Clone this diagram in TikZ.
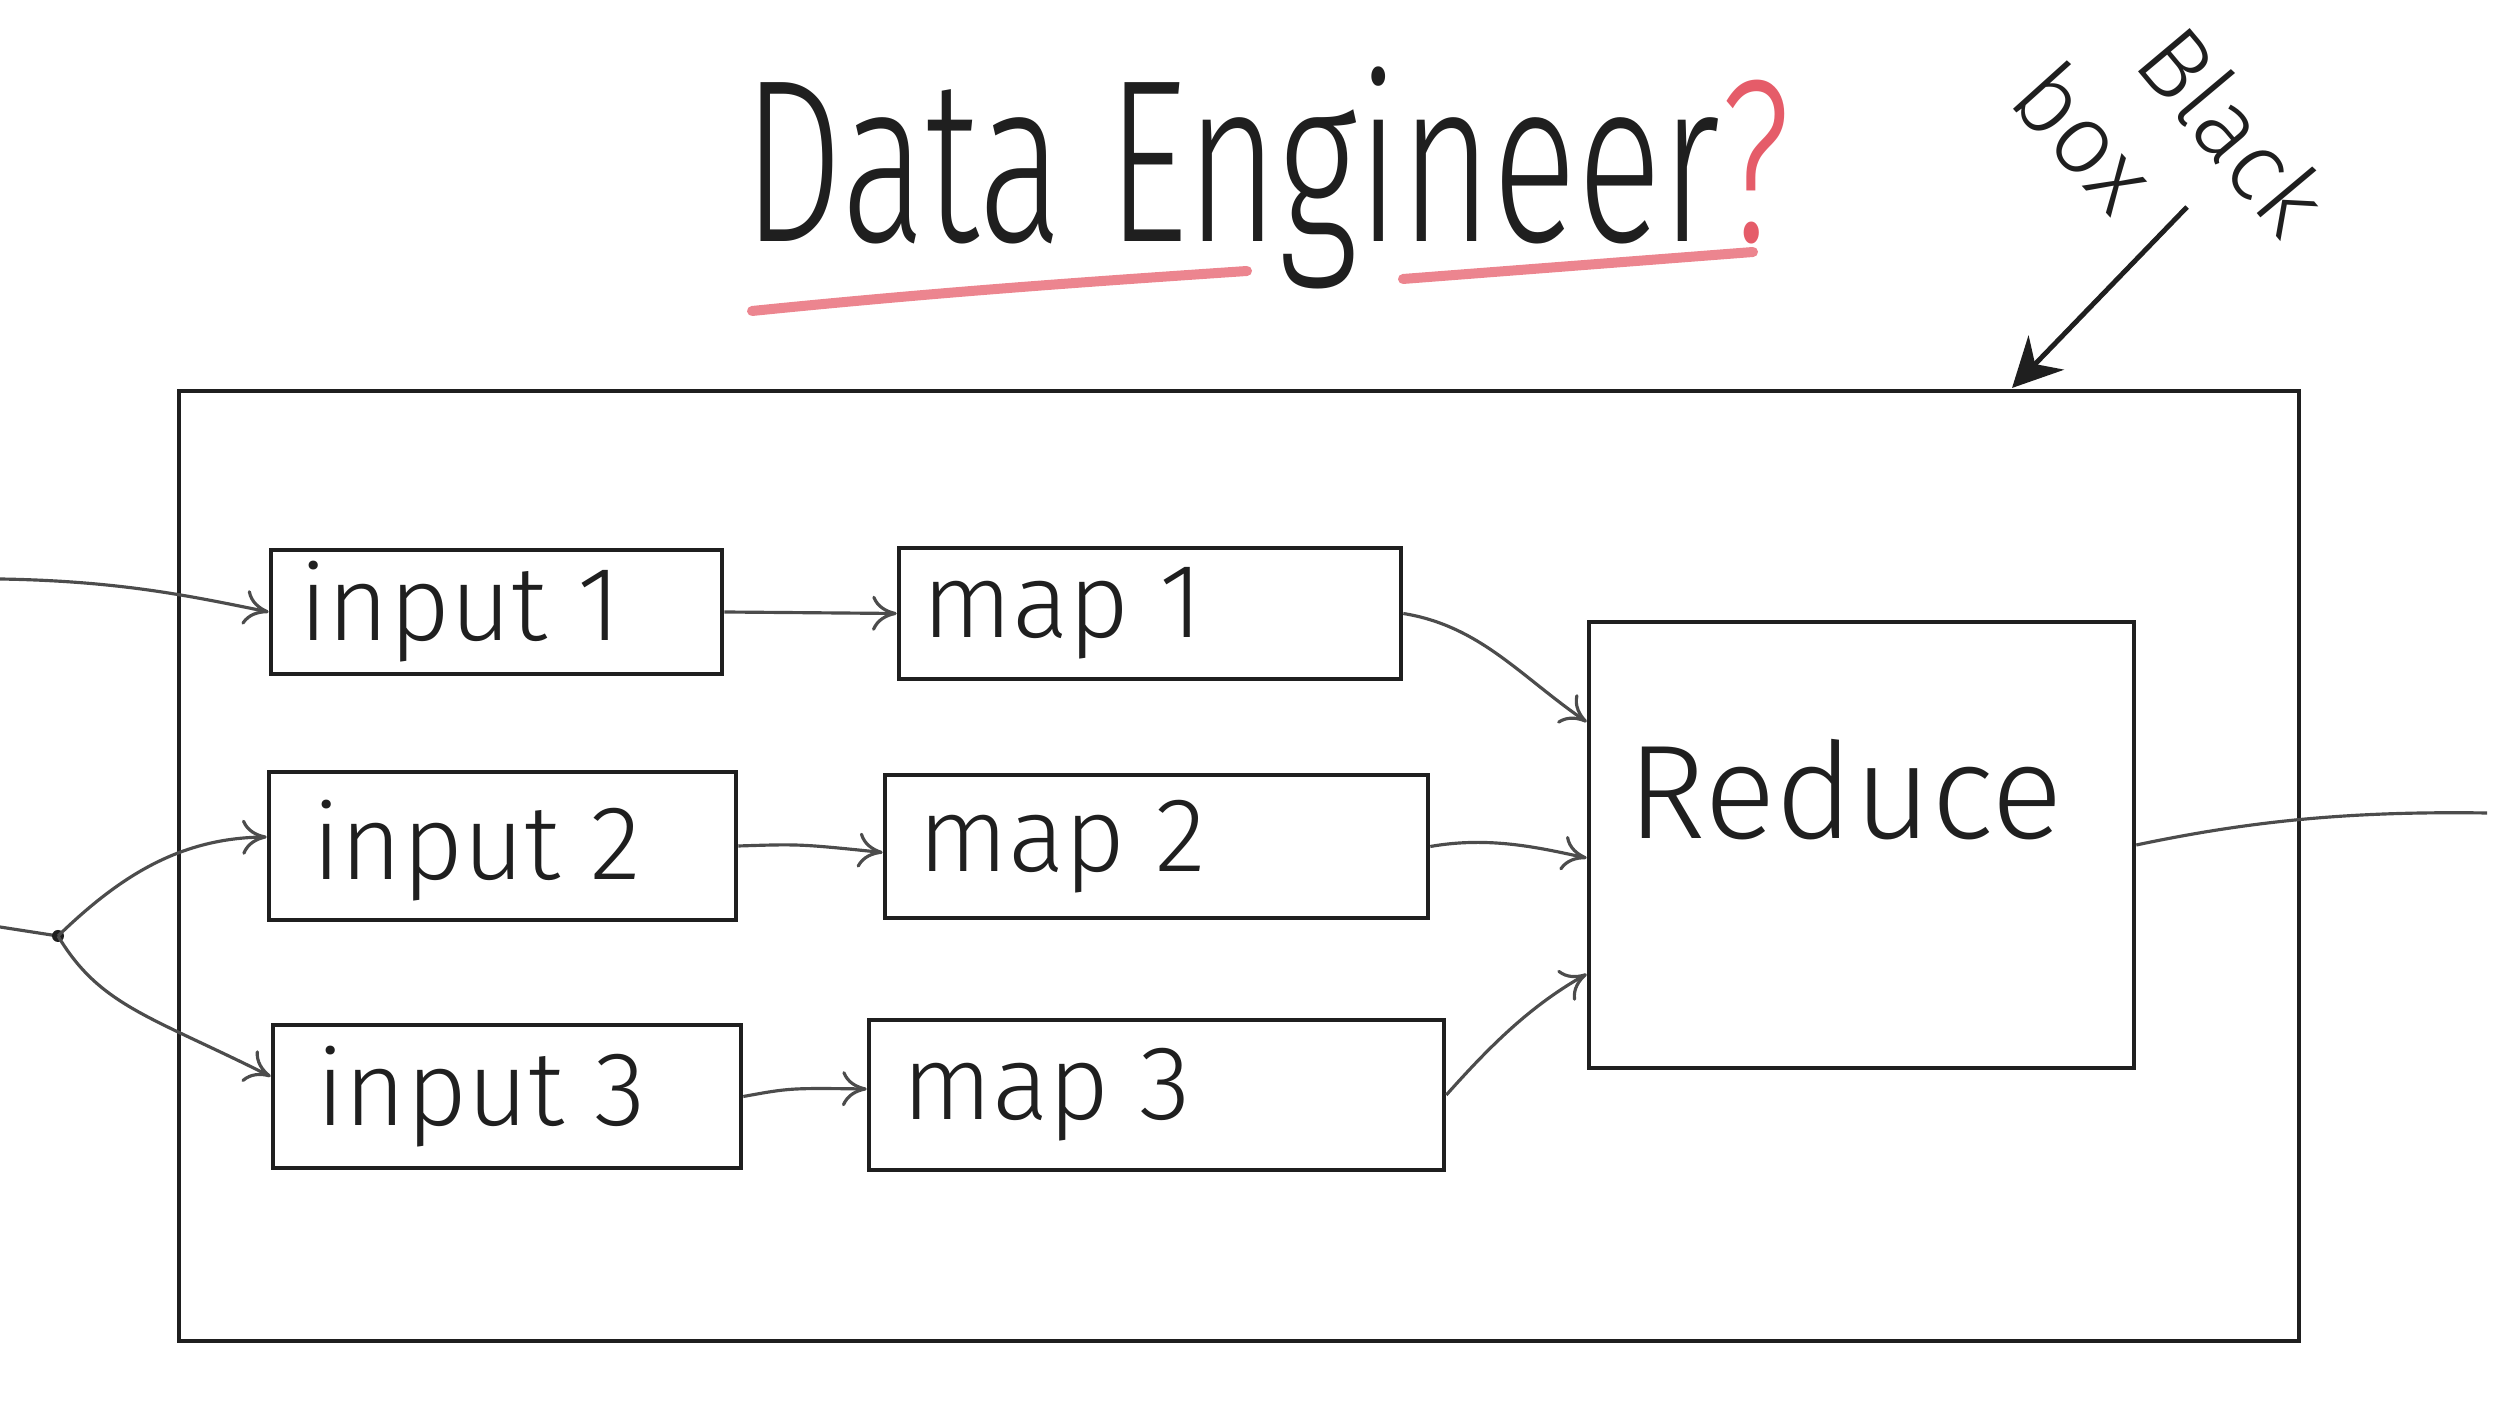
\documentclass[tikz,border=0pt]{standalone}
\usepackage{fontspec}
\setmainfont{Fira Sans}[UprightFont=* Light]
\usepackage{tikz}
\usetikzlibrary{calc}
\usetikzlibrary{arrows.meta}

\definecolor{pen}{rgb}{0.120000,0.120000,0.120000}
\definecolor{pencil}{rgb}{0.300000,0.300000,0.300000}
\definecolor{marker}{rgb}{0.900000,0.360000,0.410000}

\tikzset{
  box/.style={draw=pen, line width=1.3pt, rectangle, inner sep=0pt},
  lbl/.style={anchor=west, inner sep=0pt, text=pen},
  flow/.style={draw=pencil, line width=0.9pt, ->, >={To[length=7pt,width=10pt]}},
  underline/.style={draw=marker, opacity=0.75, line width=0.1cm, line cap=round}
}

\begin{document}
\begin{tikzpicture}
\useasboundingbox (0.000000,0.000000) rectangle (25.000000,14.060000);
{\fontsize{30}{36}\selectfont

% Drawing the frame (black box)
\node [box, minimum width=21.200000cm, minimum height=9.500000cm] (frame) at (12.390000,5.400000) {};%

% Drawing input boxes
\node [box, minimum width=4.510000cm, minimum height=1.240000cm] (in1) at (4.965000,7.940000) {};%
\node [box, minimum width=4.670000cm, minimum height=1.480000cm] (in2) at (5.025000,5.600000) {};%
\node [box, minimum width=4.680000cm, minimum height=1.430000cm] (in3) at (5.070000,3.095000) {};%
\node [lbl] (in1txt) at ([xshift=0.300000cm]in1.west) {input 1};%
\node [lbl] (in2txt) at ([xshift=0.450000cm,yshift=-0.050000cm]in2.west) {input 2};%
\node [lbl] (in3txt) at ([xshift=0.450000cm]in3.west) {input 3};%

% Drawing map boxes
\node [box, minimum width=5.020000cm, minimum height=1.310000cm] (map1) at (11.500000,7.925000) {};%
\node [box, minimum width=5.430000cm, minimum height=1.430000cm] (map2) at (11.565000,5.595000) {};%
\node [box, minimum width=5.750000cm, minimum height=1.500000cm] (map3) at (11.565000,3.110000) {};%
\node [lbl] (map1txt) at ([xshift=0.250000cm]map1.west) {map 1};%
\node [lbl] (map2txt) at ([xshift=0.350000cm]map2.west) {map 2};%
\node [lbl] (map3txt) at ([xshift=0.350000cm]map3.west) {map 3};%

% Drawing reduce box
\node [box, minimum width=5.450000cm, minimum height=4.460000cm] (reduce) at (18.615000,5.610000) {};%
\node [lbl, font=\fontsize{38}{44}\selectfont] (redtxt) at ([xshift=0.400000cm,yshift=0.550000cm]reduce.west) {Reduce};%

% Free ends of the outer arrows
\coordinate (src1) at (0.000000,8.270000);%
\coordinate (src2) at (0.000000,4.790000);%
\coordinate (splt) at (0.580000,4.700000);%
\coordinate (sink) at (24.870000,5.930000);%

% Drawing arrows into the inputs
\draw [flow] (src1) .. controls (1.200000,8.250000) and (1.900000,8.100000) .. (in1.west);%
\draw [draw=pencil, line width=0.9pt] (src2) -- (splt);%
\fill [pen] (splt) circle (0.060000);%
\draw [flow] (splt) .. controls (1.200000,5.300000) and (1.800000,5.680000) .. ([yshift=0.090000cm]in2.west);%
\draw [flow] (splt) .. controls (1.000000,4.000000) and (1.500000,3.900000) .. ([yshift=0.200000cm]in3.west);%

% Drawing arrows input -> map
\draw [flow] (in1.east) -- (map1.west);%
\draw [flow] (in2.east) .. controls (8.000000,5.620000) .. ([yshift=-0.060000cm]map2.west);%
\draw [flow] (in3.east) .. controls (7.900000,3.180000) .. ([yshift=0.060000cm]map3.west);%

% Drawing arrows map -> reduce
\draw [flow] (map1.east) .. controls (14.800000,7.800000) and (15.200000,7.300000) .. ([yshift=1.230000cm]reduce.west);%
\draw [flow] (map2.east) .. controls (14.900000,5.700000) and (15.400000,5.580000) .. ([yshift=-0.130000cm]reduce.west);%
\draw [flow] (map3.east) .. controls (14.900000,3.600000) and (15.300000,4.000000) .. ([yshift=-1.290000cm]reduce.west);%

% Drawing output arrow
\draw [draw=pencil, line width=0.9pt] (reduce.east) .. controls (22.500000,5.850000) and (23.500000,5.950000) .. (sink);%
}

% Title with red underlines
\draw [underline] (7.520000,10.950000) .. controls (9.500000,11.150000) and (11.000000,11.250000) .. (12.470000,11.350000);%
\node [inner sep=0pt, text=pen, font=\fontsize{66}{70}\selectfont, xscale=0.680000] (title) at (12.670000,12.280000) {Data Engineer\textcolor{marker}{?}};%
\draw [underline] (14.030000,11.270000) -- (17.530000,11.540000);%

% Black box label and arrow
\node [inner sep=0pt, text=pen, rotate=-50, font=\fontsize{28}{34}\selectfont] (blk) at (22.340000,12.760000) {Black};%
\node [inner sep=0pt, text=pen, rotate=-48, font=\fontsize{28}{34}\selectfont] (bx) at (20.860000,12.700000) {box};%
\coordinate (bbtail) at (21.870000,11.990000);%
\coordinate (bbtip) at (20.120000,10.180000);%
\draw [draw=pen, line width=1.4pt, -{Stealth[length=14pt,width=14pt]}] (bbtail) -- (bbtip);%
\end{tikzpicture}
\end{document}
